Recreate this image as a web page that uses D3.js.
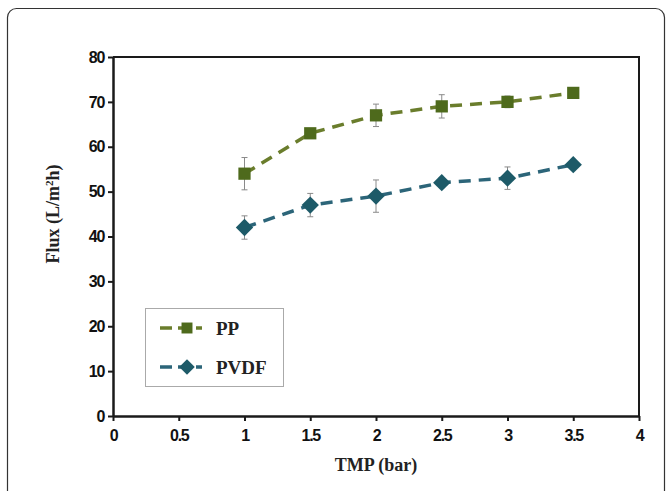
<!DOCTYPE html>
<html>
<head>
<meta charset="utf-8">
<script src="https://cdn.jsdelivr.net/npm/d3@7"></script>
<style>
  body { margin: 0; background: #fff; }
  svg { display: block; }
</style>
</head>
<body>
<svg></svg>
<script>
// values
let tmp      = [1, 1.5, 2, 2.5, 3, 3.5],
    ppFlux   = [54, 63, 67, 69, 70, 72],
    ppErr    = [3.6, 1, 2.5, 2.6, 1.3, 1.2],
    pvdfFlux = [42, 47, 49, 52, 53, 56],
    pvdfErr  = [2.6, 2.6, 3.6, 1, 2.5, 1],
    xTicks   = [0, 0.5, 1, 1.5, 2, 2.5, 3, 3.5, 4],
    yTicks   = [0, 10, 20, 30, 40, 50, 60, 70, 80],
    seriesNames = ["PP", "PVDF"];

let width = 672, height = 491,
    plotL = 113, plotR = 639, plotT = 57, plotB = 416;

let xScale = d3.scaleLinear().domain([0, 4]).range([plotL, plotR]),
    yScale = d3.scaleLinear().domain([0, 80]).range([plotB, plotT]);

let series = [
  {name: seriesNames[0], y: ppFlux, err: ppErr, line: "#6a7d2c", mark: "#4e6a1c", size: 150, rot: 0},
  {name: seriesNames[1], y: pvdfFlux, err: pvdfErr, line: "#2c6579", mark: "#1d5a68", size: 150, rot: 45}
];

let svg = d3.select("svg").attr("width", width).attr("height", height);

// outer frame
svg.append("rect")
  .attr("x", 7.5).attr("y", 8.5)
  .attr("width", 657).attr("height", 500)
  .attr("rx", 9)
  .attr("fill", "none").attr("stroke", "#333").attr("stroke-width", 1.2);

// plot box top + right
svg.append("path")
  .attr("d", `M${plotL},${plotT}H${plotR}V${plotB}`)
  .attr("fill", "none").attr("stroke", "#1a1a1a").attr("stroke-width", 2);

let xAxis = d3.axisBottom(xScale).tickValues(xTicks).tickSize(5).tickSizeOuter(0).tickFormat(d3.format("")),
    yAxis = d3.axisLeft(yScale).tickValues(yTicks).tickSize(5).tickSizeOuter(0);

let gx = svg.append("g").attr("transform", `translate(0,${plotB})`).call(xAxis);
let gy = svg.append("g").attr("transform", `translate(${plotL},0)`).call(yAxis);

[gx, gy].forEach(g => {
  g.select(".domain").attr("stroke", "#1a1a1a").attr("stroke-width", 2.5);
  g.selectAll(".tick line").attr("stroke", "#1a1a1a").attr("stroke-width", 2);
  g.selectAll(".tick text")
    .style("font-family", "'Liberation Sans', Arial, sans-serif")
    .style("font-weight", "bold")
    .style("font-size", "16px")
    .style("letter-spacing", "-1.3px")
    .attr("fill", "#111");
});
gx.selectAll(".tick text").attr("dy", "1.05em");
gy.selectAll(".tick text").attr("x", -9);

// series
let line = d3.line().x((d, i) => xScale(tmp[i])).y(d => yScale(d));
let marker = d3.symbol().type(d3.symbolSquare);

series.forEach(s => {
  let g = svg.append("g");
  // error bars
  s.y.forEach((v, i) => {
    let x = xScale(tmp[i]);
    g.append("path")
      .attr("d", `M${x},${yScale(v + s.err[i])}V${yScale(v - s.err[i])}` +
                 `M${x - 3},${yScale(v + s.err[i])}H${x + 3}` +
                 `M${x - 3},${yScale(v - s.err[i])}H${x + 3}`)
      .attr("stroke", "#8a8a8a").attr("stroke-width", 1).attr("fill", "none");
  });
  g.append("path")
    .datum(s.y)
    .attr("d", line)
    .attr("fill", "none")
    .attr("stroke", s.line)
    .attr("stroke-width", 3.5)
    .attr("stroke-dasharray", "12,8");
  g.selectAll(".m").data(s.y).enter().append("path")
    .attr("transform", (d, i) => `translate(${xScale(tmp[i])},${yScale(d)}) rotate(${s.rot})`)
    .attr("d", marker.size(s.size))
    .attr("fill", s.mark);
});

// legend
let lg = svg.append("g");
lg.append("rect")
  .attr("x", 145.5).attr("y", 308.5).attr("width", 138).attr("height", 78)
  .attr("fill", "#fff").attr("stroke", "#aaa").attr("stroke-width", 1);
series.forEach((s, i) => {
  let y = 328 + i * 39;
  lg.append("line")
    .attr("x1", 160).attr("x2", 202).attr("y1", y).attr("y2", y)
    .attr("stroke", s.line).attr("stroke-width", 3.5).attr("stroke-dasharray", "12,6");
  lg.append("path")
    .attr("transform", `translate(187,${y}) rotate(${s.rot})`)
    .attr("d", marker.size(120))
    .attr("fill", s.mark);
  lg.append("text")
    .attr("x", 216).attr("y", y).attr("dy", "0.35em")
    .text(s.name)
    .style("font-family", "'Liberation Serif', 'Times New Roman', serif")
    .style("font-weight", "bold")
    .style("font-size", "19px")
    .attr("fill", "#222");
});

// axis titles
svg.append("text")
  .attr("x", 376).attr("y", 471)
  .text("TMP (bar)")
  .style("font-family", "'Liberation Serif', 'Times New Roman', serif")
  .style("font-weight", "bold")
  .style("font-size", "18px")
  .style("text-anchor", "middle")
  .attr("fill", "#222");

svg.append("text")
  .attr("transform", `translate(59,214) rotate(-90)`)
  .style("font-family", "'Liberation Serif', 'Times New Roman', serif")
  .style("font-weight", "bold")
  .style("font-size", "18px")
  .style("text-anchor", "middle")
  .attr("fill", "#222")
  .html("Flux (L/m<tspan dy='-6' font-size='11px'>2</tspan><tspan dy='6'>h)</tspan>");
</script>
</body>
</html>
